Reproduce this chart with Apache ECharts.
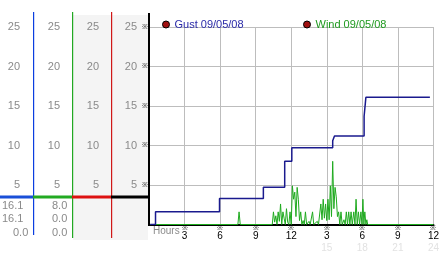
<!DOCTYPE html>
<html><head><meta charset="utf-8">
<script src="https://cdn.jsdelivr.net/npm/echarts@6/dist/echarts.min.js"></script>
<style>html,body{margin:0;padding:0;background:#fff}#c{width:442px;height:253px}</style>
</head><body><div id="c"></div>
<script>
const gustName = 'Gust 09/05/08';
const windName = 'Wind 09/05/08';
const gustHours  = [0.1, 0.55, 5.95, 9.65, 11.45, 12.05, 15.5, 15.65, 18.15, 18.3, 23.7];
const gustValues = [0,   1.6,  3.3,  4.7,  8.0,   9.7,   10.6, 11.2,  13.7,  16.1, 16.1];
const windHours = [0,7.5,7.6,7.7,10.4,10.5,10.6,10.7,10.8,10.9,11.0,11.1,11.2,11.3,11.4,11.5,11.6,11.7,11.8,11.9,12.0,12.1,12.2,12.3,12.4,12.5,12.6,12.7,12.8,12.9,13.0,13.1,13.2,13.3,13.5,13.6,13.8,13.9,14.2,14.3,14.5,14.6,14.7,14.8,14.9,15.0,15.1,15.2,15.3,15.4,15.5,15.6,15.7,15.8,15.9,16.0,16.1,16.2,16.3,16.45,16.55,16.65,16.75,16.85,16.95,17.05,17.15,17.28,17.38,17.47,17.57,17.67,17.77,17.88,17.97,18.05,18.13,18.21,18.3,18.38,18.45,24];
const windValues = [0,0,1.6,0,0,1.6,0.3,1.1,0,1.6,0.4,2.6,0,1.6,0.8,0,2.0,0.3,0,1.6,0,4.9,3.2,4.1,1.0,4.7,3.2,0.5,1.6,0,0.5,0,1.6,0,0.4,0,1.6,0,0.4,0,2.6,0.6,3.2,0.8,2.6,0.5,3.2,0.6,4.9,1.0,8.0,2.0,4.7,3.5,1.0,1.6,0,1.6,0,0.6,0,1.6,0,1.6,0,1.6,0,1.6,0,3.2,0,1.6,0,1.6,0,3.2,0,1.6,0,0.6,0,0];
const yTickLabels = [0, 5, 10, 15, 20, 25];
const xTickHours = [0, 3, 6, 9, 12, 15, 18, 21, 24];
const gustStats = ['16.1', '16.1', '0.0'];
const windStats = ['8.0', '0.0', '0.0'];

const FONT = 'Liberation Sans';
const chart = echarts.init(document.getElementById('c'));

function yAxisAt(offset, margin, fmt, extra) {
  return Object.assign({
    type: 'value', min: 0, max: 25, interval: 5, position: 'left', offset: offset,
    axisLine: { show: false }, axisTick: { show: false }, splitLine: { show: false },
    axisLabel: { margin: margin, color: '#8a8a8a', fontSize: 11, fontFamily: FONT, formatter: fmt }
  }, extra || {});
}
const numFmt = v => (yTickLabels.indexOf(v) > 0 ? String(v) : '');

const graphics = [
  { type: 'rect', z: -1, shape: { x: 73, y: 15, width: 75, height: 225 }, style: { fill: '#f4f4f4' } },
  { type: 'rect', z: 5, shape: { x: 33, y: 12, width: 1.2, height: 223 }, style: { fill: '#0a3ee0' } },
  { type: 'rect', z: 5, shape: { x: 72, y: 12, width: 1.2, height: 226 }, style: { fill: '#22a822' } },
  { type: 'rect', z: 5, shape: { x: 111, y: 12, width: 1.2, height: 226 }, style: { fill: '#d01818' } },
  { type: 'line', z: 5, shape: { x1: 149, y1: 13, x2: 149, y2: 226 }, style: { stroke: '#000', lineWidth: 2 } },
  { type: 'line', z: 6, shape: { x1: 0, y1: 197, x2: 33, y2: 197 }, style: { stroke: '#1a4fd8', lineWidth: 3 } },
  { type: 'line', z: 6, shape: { x1: 33, y1: 197, x2: 72, y2: 197 }, style: { stroke: '#22aa22', lineWidth: 3 } },
  { type: 'line', z: 6, shape: { x1: 72, y1: 197, x2: 111, y2: 197 }, style: { stroke: '#dd1111', lineWidth: 3 } },
  { type: 'line', z: 6, shape: { x1: 111, y1: 197, x2: 149, y2: 197 }, style: { stroke: '#000', lineWidth: 3 } },
  { type: 'text', left: 153, top: 226, style: { text: 'Hours', fill: '#8a8a8a', font: '10px ' + FONT } }
];
const statX1 = [2, 2, 13];
gustStats.forEach((s, i) => graphics.push({ type: 'text', left: statX1[i], top: 200 + i * 13.5, style: { text: s, fill: '#8a8a8a', font: '11px ' + FONT } }));
windStats.forEach((s, i) => graphics.push({ type: 'text', left: 52, top: 200 + i * 13.5, style: { text: s, fill: '#8a8a8a', font: '11px ' + FONT } }));

chart.setOption({
  animation: false,
  backgroundColor: '#fff',
  textStyle: { fontFamily: FONT },
  grid: { left: 149, right: 4, top: 27, bottom: 27, containLabel: false },
  legend: [
    { data: [{ name: gustName, itemStyle: { color: '#a01010', borderColor: '#000', borderWidth: 1 } }],
      left: 157, top: 14, icon: 'circle', itemWidth: 7, itemHeight: 7, selectedMode: false,
      textStyle: { color: '#2a2aa8', fontSize: 11, fontFamily: FONT } },
    { data: [{ name: windName, itemStyle: { color: '#a01010', borderColor: '#000', borderWidth: 1 } }],
      left: 298, top: 14, icon: 'circle', itemWidth: 7, itemHeight: 7, selectedMode: false,
      textStyle: { color: '#1f9a1f', fontSize: 11, fontFamily: FONT } }
  ],
  xAxis: {
    type: 'value', min: 0, max: 24, interval: 3,
    axisLine: { show: true, onZero: false, lineStyle: { color: '#000', width: 2 } },
    axisTick: { show: false },
    splitLine: { show: true, lineStyle: { color: '#bdbdbd', width: 1 } },
    axisLabel: {
      margin: 1, showMaxLabel: true, showMinLabel: true, hideOverlap: false,
      formatter: function (v) {
        if (xTickHours.indexOf(v) <= 0) return '';
        const n = v % 12 === 0 ? 12 : v % 12;
        let s = '{m|※}\n{d|' + n + '}';
        if (v > 12) s += '\n{f|' + v + '}';
        return s;
      },
      rich: {
        m: { fontSize: 7, lineHeight: 6, color: '#000' },
        d: { fontSize: 10, lineHeight: 10, color: '#000' },
        f: { fontSize: 10, lineHeight: 13, color: '#e2e2e2' }
      }
    }
  },
  yAxis: [
    yAxisAt(0, 1, null, { splitLine: { show: true, lineStyle: { color: '#bdbdbd', width: 1 } },
      axisLabel: { margin: 1, color: '#000', fontSize: 7, formatter: v => (yTickLabels.indexOf(v) > 0 ? '※' : '') } }),
    yAxisAt(0, 12, numFmt),
    yAxisAt(38, 12, numFmt),
    yAxisAt(77, 12, numFmt),
    yAxisAt(116, 13, numFmt)
  ],
  series: [
    { name: windName, type: 'line', yAxisIndex: 0, showSymbol: false, symbol: 'none',
      lineStyle: { color: '#1faa1f', width: 1 }, itemStyle: { color: '#1faa1f' },
      data: windHours.map((h, i) => [h, windValues[i]]) },
    { name: gustName, type: 'line', yAxisIndex: 0, step: 'end', showSymbol: false, symbol: 'none',
      lineStyle: { color: '#1a1a8e', width: 1.5 }, itemStyle: { color: '#1a1a8e' },
      data: gustHours.map((h, i) => [h, gustValues[i]]) }
  ],
  graphic: graphics
});
</script></body></html>
